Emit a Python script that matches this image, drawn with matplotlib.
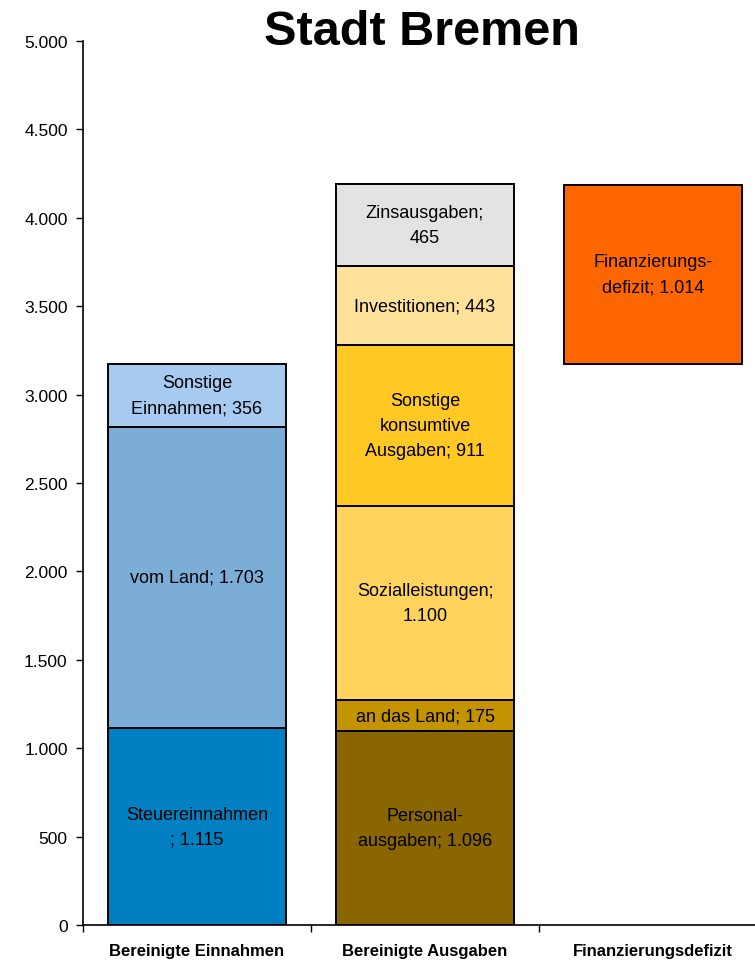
import matplotlib
matplotlib.use("Agg")
import matplotlib.pyplot as plt
from matplotlib.ticker import FuncFormatter

plt.rcParams["font.family"] = ["Liberation Sans", "DejaVu Sans"]

categories = ["Bereinigte Einnahmen", "Bereinigte Ausgaben", "Finanzierungsdefizit"]

einnahmen_labels = ["Steuereinnahmen\n; {}", "vom Land; {}", "Sonstige\nEinnahmen; {}"]
einnahmen_values = [1115, 1703, 356]
einnahmen_colors = ["#0080C0", "#7BADD6", "#A6CAF0"]

ausgaben_labels = ["Personal-\nausgaben; {}", "an das Land; {}", "Sozialleistungen;\n{}",
                   "Sonstige\nkonsumtive\nAusgaben; {}", "Investitionen; {}", "Zinsausgaben;\n{}"]
ausgaben_values = [1096, 175, 1100, 911, 443, 465]
ausgaben_colors = ["#8A6600", "#C49300", "#FFD35C", "#FFC823", "#FFE29A", "#E3E3E3"]

defizit_label = "Finanzierungs-\ndefizit; {}"
defizit_value = 1014
defizit_color = "#FF6600"

yticks = list(range(0, 5001, 500))


def de_fmt(v):
    return f"{int(round(v)):,}".replace(",", ".")


fig = plt.figure(figsize=(7.55, 9.62), dpi=100)
ax = fig.add_axes([83 / 755, 1 - 926 / 962, 684 / 755, 884 / 962])

width = 0.78
edge = dict(edgecolor="black", linewidth=1.4)


def stack(x, values, colors, labels, start=0.0):
    bottom = start
    for v, c, lab in zip(values, colors, labels):
        ax.bar(x, v, width=width, bottom=bottom, color=c, **edge)
        ax.text(x, bottom + v / 2, lab.format(de_fmt(v)), ha="center", va="center",
                fontsize=13, linespacing=1.6, color="black")
        bottom += v
    return bottom


einnahmen_total = stack(0, einnahmen_values, einnahmen_colors, einnahmen_labels)
stack(1, ausgaben_values, ausgaben_colors, ausgaben_labels)
stack(2, [defizit_value], [defizit_color], [defizit_label], start=einnahmen_total)

ax.set_xlim(-0.5, 2.5)
ax.set_ylim(0, 5000)
ax.set_yticks(yticks)
ax.yaxis.set_major_formatter(FuncFormatter(lambda v, p: de_fmt(v)))

# category boundaries carry the tick marks, labels sit at the centers
ax.set_xticks([-0.5, 0.5, 1.5, 2.5])
ax.set_xticklabels([])
ax.set_xticks([0, 1, 2], minor=True)
ax.set_xticklabels(categories, minor=True, fontweight="bold", fontsize=12)
ax.tick_params(axis="x", which="major", direction="out", length=5, width=1)
ax.tick_params(axis="x", which="minor", length=0, pad=13)
ax.tick_params(axis="y", direction="out", length=5, width=1, pad=6, labelsize=12.5)

for s in ["top", "right"]:
    ax.spines[s].set_visible(False)
for s in ["left", "bottom"]:
    ax.spines[s].set_linewidth(1.2)

fig.text(422 / 755, 1 - 45 / 962, "Stadt Bremen", ha="center", va="baseline",
         fontsize=35, fontweight="bold")

fig.savefig("out.png", dpi=100)
